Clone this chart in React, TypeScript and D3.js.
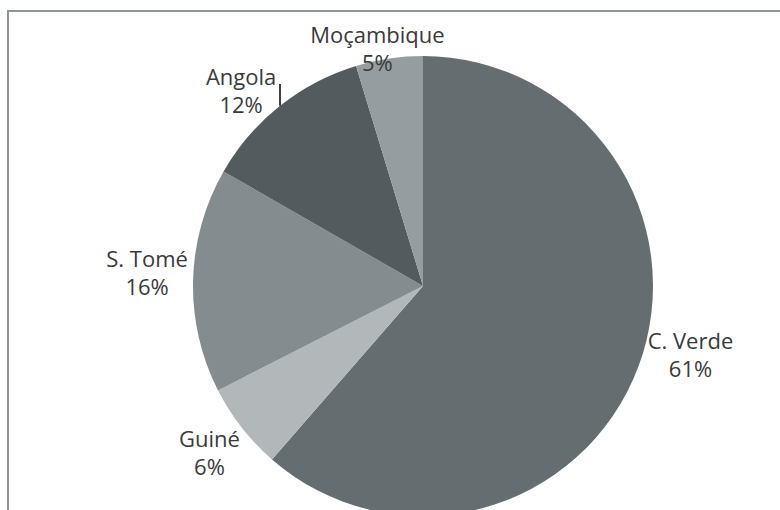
import React from "react";
import * as d3 from "d3";

const categories = ["C. Verde", "Guiné", "S. Tomé", "Angola", "Moçambique"];
const values = [61.4, 6.1, 15.8, 12.0, 4.7];
const percentLabels = ["61%", "6%", "16%", "12%", "5%"];
const colors = ["#666d70", "#b2b7b9", "#858c8f", "#535b5e", "#969da0"];

const W = 780;
const H = 510;
const cx = 423;
const cy = 286;
const R = 230;
const LABEL_R = R + 46;

// small placement adjustments (like a spreadsheet's best-fit labels)
const nudges: Record<string, [number, number]> = {
  "C. Verde": [9, -20],
  "Guiné": [4, 5],
  "S. Tomé": [0, 2],
  "Angola": [-10, 29],
  "Moçambique": [-5, 44],
};

export default function App() {
  const pie = d3
    .pie<number>()
    .sort(null)
    .value((d) => d);
  const arcs = pie(values);
  const arc = d3.arc<d3.PieArcDatum<number>>().innerRadius(0).outerRadius(R);

  return (
    <svg
      width={W}
      height={H}
      style={{ position: "absolute", left: 0, top: 0, background: "#fff" }}
      fontFamily="'Open Sans', sans-serif"
    >
      <rect x={0} y={0} width={W} height={H} fill="#fff" />
      <g transform={`translate(${cx},${cy})`}>
        {arcs.map((a, i) => (
          <path key={i} d={arc(a) || ""} fill={colors[i]} />
        ))}
      </g>
      {arcs.map((a, i) => {
        const mid = (a.startAngle + a.endAngle) / 2;
        const [nx, ny] = nudges[categories[i]] || [0, 0];
        const x = cx + LABEL_R * Math.sin(mid) + nx;
        const y = cy - LABEL_R * Math.cos(mid) + ny;
        return (
          <g key={i}>
            <text
              x={x}
              y={y - 14}
              textAnchor="middle"
              fontSize={22}
              fill="#3a3a3a"
            >
              {categories[i]}
            </text>
            <text
              x={x}
              y={y + 14}
              textAnchor="middle"
              fontSize={22}
              fill="#3a3a3a"
            >
              {percentLabels[i]}
            </text>
          </g>
        );
      })}
      {(() => {
        // leader line for Angola
        const lx = 280;
        const edgeY = cy - Math.sqrt(R * R - (lx - cx) * (lx - cx));
        return (
          <line x1={lx} x2={lx} y1={84} y2={edgeY} stroke="#000" strokeWidth={1.5} />
        );
      })()}
      <path
        d={`M ${W + 5} 11 H 8 V ${H + 5}`}
        fill="none"
        stroke="#8f9597"
        strokeWidth={2}
      />
    </svg>
  );
}
